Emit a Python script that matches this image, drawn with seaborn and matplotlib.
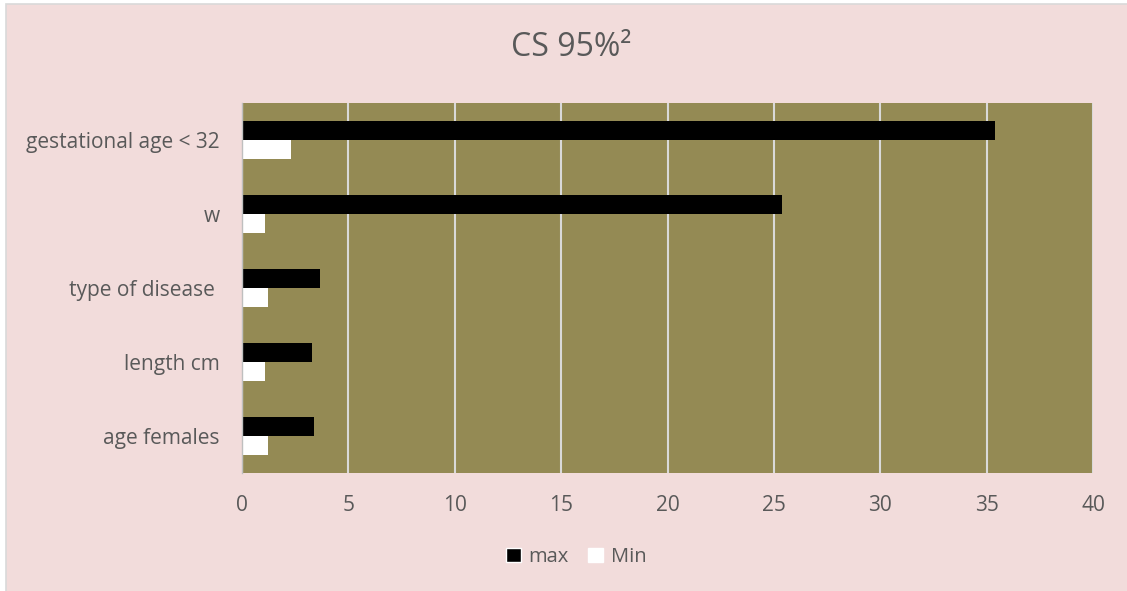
import matplotlib
matplotlib.use("Agg")
import matplotlib.pyplot as plt
from matplotlib.patches import Rectangle
import seaborn as sns
import pandas as pd

categories = ["gestational age < 32", "w", "type of disease ", "length cm", "age females"]
max_values = [35.4, 25.4, 3.65, 3.3, 3.4]
min_values = [2.3, 1.08, 1.2, 1.08, 1.2]
series_names = ["max", "Min"]
title_text = "CS 95%\u00b2"
x_ticks = [0, 5, 10, 15, 20, 25, 30, 35, 40]

df = pd.DataFrame({
    "category": categories * 2,
    "value": max_values + min_values,
    "series": [series_names[0]] * len(categories) + [series_names[1]] * len(categories),
})

sns.set_theme(style="white")
plt.rcParams["font.family"] = ["Open Sans", "DejaVu Sans"]

W, H = 1127, 591
fig = plt.figure(figsize=(W / 100, H / 100), dpi=100)
fig.patch.set_facecolor("white")
bg = Rectangle((6 / W, -0.2), 1.2, 1.2 - 4 / H, transform=fig.transFigure,
               facecolor="#F2DCDB", edgecolor="#D9D9D9", linewidth=1.2, zorder=-10)
fig.patches.append(bg)

ax = fig.add_axes([242 / W, 1 - 473 / H, (1093 - 242) / W, (473 - 103) / H])
ax.set_facecolor("#948A54")

sns.barplot(data=df, y="category", x="value", hue="series", order=categories,
            hue_order=series_names, palette=["#000000", "#FFFFFF"], width=0.52,
            orient="h", ax=ax, legend=True, edgecolor="none", saturation=1)

ax.set_xlim(0, 40)
ax.set_xticks(x_ticks)
ax.set_xticklabels([str(t) for t in x_ticks])
ax.grid(axis="x", color="#D9D9D9", linewidth=1.5)
ax.set_axisbelow(True)
ax.set_xlabel("")
ax.set_ylabel("")
for s in ["top", "right", "bottom"]:
    ax.spines[s].set_visible(False)
ax.spines["left"].set_color("#BFBFBF")
ax.spines["left"].set_linewidth(1.0)
ax.tick_params(axis="both", length=0, labelsize=15, colors="#595959")
ax.tick_params(axis="x", pad=16)
ax.tick_params(axis="y", pad=16)

leg = ax.get_legend()
leg.remove()
handles = [Rectangle((0, 0), 1, 1, facecolor="#000000"), Rectangle((0, 0), 1, 1, facecolor="#FFFFFF")]
fig.legend(handles, series_names, loc="center", bbox_to_anchor=(576 / W, 1 - 557 / H),
           ncol=2, frameon=False, fontsize=14.5, handlelength=0.75, handleheight=0.75,
           handletextpad=0.35, columnspacing=1.0, labelcolor="#595959")

fig.text(571 / W, 1 - 48 / H, title_text, ha="center", va="center", fontsize=23, color="#595959")

fig.savefig("out.png", dpi=100, facecolor=fig.get_facecolor())
